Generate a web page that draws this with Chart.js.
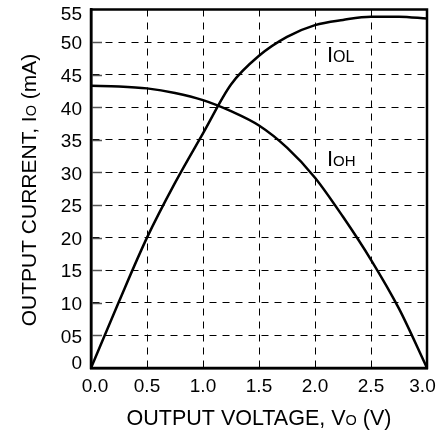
<!DOCTYPE html>
<html>
<head>
<meta charset="utf-8">
<script src="https://cdn.jsdelivr.net/npm/chart.js@4"></script>
<style>
  html, body { margin: 0; padding: 0; background: #fff; }
  #wrap { width: 441px; height: 434px; }
</style>
</head>
<body>
<div id="wrap"><canvas id="chart" width="441" height="434"></canvas></div>
<script>
// values
const volts      = [0, 0.25, 0.5, 0.75, 1.0, 1.25, 1.5, 1.75, 2.0, 2.25, 2.5, 2.75, 3.0];
const iolCurrent = [0, 10.2, 20, 28.4, 36.0, 43.5, 47.9, 50.8, 52.6, 53.4, 53.9, 53.9, 53.6];
const iohCurrent = [43.3, 43.2, 42.9, 42.2, 41.1, 39.4, 37.2, 33.8, 29.2, 23.2, 16.6, 9.1, 0];

const yTickValues = [0, 5, 10, 15, 20, 25, 30, 35, 40, 45, 50, 55];
const yTickLabels = ['0', '05', '10', '15', '20', '25', '30', '35', '40', '45', '50', '55'];
const xTickValues = [0, 0.5, 1.0, 1.5, 2.0, 2.5, 3.0];
const xTickLabels = ['0.0', '0.5', '1.0', '1.5', '2.0', '2.5', '3.0'];

const FONT = '"Liberation Sans", Arial, sans-serif';

function toPoints(xs, ys) {
    return xs.map((x, i) => ({ x: x, y: ys[i] }));
}

// draw a string made of [text, size] parts, starting at x
function drawParts(ctx, parts, x, y) {
    parts.forEach(p => {
        ctx.font = p[1] + 'px ' + FONT;
        ctx.fillText(p[0], x, y);
        x += ctx.measureText(p[0]).width;
    });
}
function partsWidth(ctx, parts) {
    let w = 0;
    parts.forEach(p => {
        ctx.font = p[1] + 'px ' + FONT;
        w += ctx.measureText(p[0]).width;
    });
    return w;
}

const frameAndText = {
    id: 'frameAndText',
    afterDraw(chart) {
        const ctx = chart.ctx;
        const a = chart.chartArea;
        const xs = chart.scales.x;
        const ys = chart.scales.y;
        ctx.save();

        // short solid ticks inside the left axis
        ctx.strokeStyle = '#555';
        ctx.lineWidth = 1.5;
        for (let v = 5; v < 55; v += 5) {
            const py = Math.round(ys.getPixelForValue(v)) + 0.5;
            ctx.beginPath();
            ctx.moveTo(a.left, py);
            ctx.lineTo(a.left + 11, py);
            ctx.stroke();
        }

        // frame
        ctx.strokeStyle = '#000';
        ctx.lineWidth = 2.5;
        ctx.strokeRect(a.left, a.top, a.right - a.left, a.bottom - a.top);

        ctx.fillStyle = '#000';

        // tick labels, end labels kept inside the picture
        ctx.font = '19px ' + FONT;
        ctx.textAlign = 'right';
        ctx.textBaseline = 'middle';
        yTickValues.forEach((v, i) => {
            let py = ys.getPixelForValue(v) + 2;
            py = Math.max(15, Math.min(py, 364));
            ctx.fillText(yTickLabels[i], a.left - 9, py);
        });
        ctx.textAlign = 'center';
        ctx.textBaseline = 'top';
        xTickValues.forEach((v, i) => {
            let px = xs.getPixelForValue(v);
            px = Math.max(95, Math.min(px, 422.5));
            ctx.fillText(xTickLabels[i], px, a.bottom + 9);
        });

        ctx.textBaseline = 'alphabetic';
        ctx.textAlign = 'left';

        // curve labels
        drawParts(ctx, [['I', 22], ['OL', 16]], 327, 62);
        drawParts(ctx, [['I', 22], ['OH', 15]], 327, 166);

        // x axis title
        const xParts = [['OUTPUT VOLTAGE, V', 21.5], ['O', 14.5], [' (V)', 21.5]];
        const xw = partsWidth(ctx, xParts);
        drawParts(ctx, xParts, (a.left + a.right) / 2 - xw / 2, 425);

        // y axis title
        const yParts = [['OUTPUT CURRENT, I', 21], ['O', 14.5], [' (mA)', 21]];
        const yw = partsWidth(ctx, yParts);
        ctx.translate(36, 190);
        ctx.rotate(-Math.PI / 2);
        drawParts(ctx, yParts, -yw / 2, 0);

        ctx.restore();
    }
};

const lineStyle = {
    borderColor: '#000',
    borderWidth: 2.5,
    pointRadius: 0,
    fill: false,
    cubicInterpolationMode: 'monotone'
};

new Chart(document.getElementById('chart'), {
    type: 'line',
    data: {
        datasets: [
            Object.assign({ label: 'IOL', data: toPoints(volts, iolCurrent) }, lineStyle),
            Object.assign({ label: 'IOH', data: toPoints(volts, iohCurrent) }, lineStyle)
        ]
    },
    options: {
        responsive: false,
        animation: false,
        layout: { padding: { left: 0, right: 14, top: 9.5, bottom: 0 } },
        plugins: {
            legend: { display: false },
            tooltip: { enabled: false }
        },
        scales: {
            x: {
                type: 'linear',
                min: 0,
                max: 3,
                afterFit: s => {
                    s.height = 66;
                    s.paddingLeft = 0;
                    s.paddingRight = 0;
                },
                ticks: { stepSize: 0.5, display: false },
                grid: { color: '#000', lineWidth: 1, drawTicks: false },
                border: { display: true, color: '#000', width: 2.5, dash: [7, 6] }
            },
            y: {
                min: 0,
                max: 55,
                afterFit: s => {
                    s.width = 91;
                    s.paddingTop = 0;
                    s.paddingBottom = 0;
                },
                ticks: { stepSize: 5, display: false },
                grid: { color: '#000', lineWidth: 1, drawTicks: false },
                border: { display: true, color: '#000', width: 2.5, dash: [7, 6] }
            }
        }
    },
    plugins: [frameAndText]
});
</script>
</body>
</html>
